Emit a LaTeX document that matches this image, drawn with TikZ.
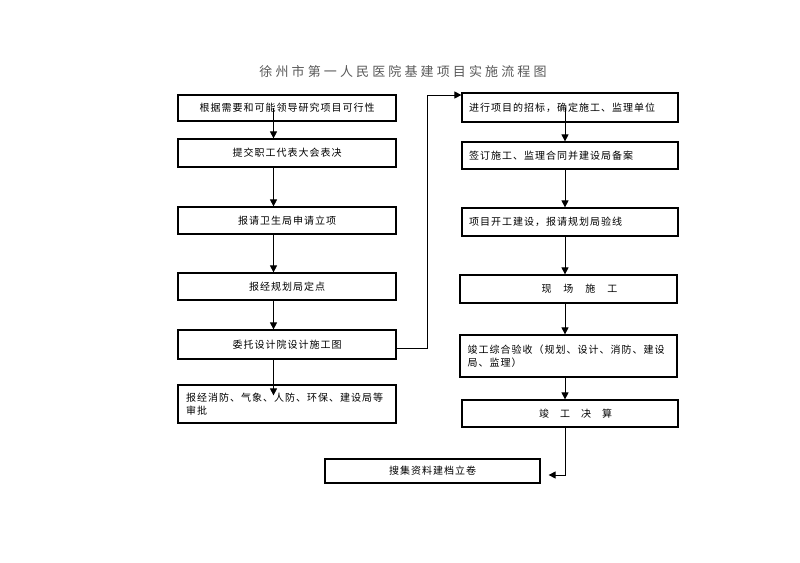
\documentclass[tikz,border=0pt]{standalone}
\usepackage{fontspec}
\newfontfamily\cjk[LetterSpace=10]{Noto Sans CJK SC}
\newfontfamily\cjktitle[LetterSpace=24]{Noto Sans CJK SC}
\usetikzlibrary{arrows.meta}

\tikzset{
  box/.style={draw, line width=1.2pt, minimum width=218pt, minimum height=27pt,
    inner sep=0pt, font=\cjk\fontsize{10}{13}\selectfont},
  lbox/.style={box, align=left, text width=202pt},
  title/.style={font=\cjktitle\fontsize{13}{15}\selectfont, text=black!65},
  arr/.style={-{Triangle[width=7pt,length=7pt]}, line width=0.8pt},
}

\begin{document}
\begin{tikzpicture}[x=1pt,y=-1pt]
	\useasboundingbox (0,0) rectangle (800,562);
	\node[title] (head) at (403,72) {徐州市第一人民医院基建项目实施流程图};
	% left column
	\node[box, minimum height=26pt] (need) at (287,108) {根据需要和可能领导研究项目可行性};
	\node[box, minimum height=28pt] (vote) at (287,153) {提交职工代表大会表决};
	\node[box] (apply) at (287,220.5) {报请卫生局申请立项};
	\node[box] (site) at (287,286.5) {报经规划局定点};
	\node[box, minimum height=29pt] (design) at (287,344.5) {委托设计院设计施工图};
	\node[lbox, minimum height=38pt] (approve) at (287,404) {报经消防、气象、人防、环保、建设局等\\审批};
	% right column
	\node[lbox, minimum width=216pt, minimum height=29pt] (tender) at (570,107.5) {进行项目的招标，确定施工、监理单位};
	\node[lbox, minimum width=216pt] (contract) at (570,155.5) {签订施工、监理合同并建设局备案};
	\node[lbox, minimum width=216pt, minimum height=28pt] (begin) at (570,222) {项目开工建设，报请规划局验线};
	\node[lbox, minimum width=217pt, minimum height=28pt] (build) at (568.5,289) {\hspace*{74pt}现\hspace{12pt}场\hspace{12pt}施\hspace{12pt}工};
	\node[lbox, minimum width=217pt, minimum height=42pt] (accept) at (568.5,356) {竣工综合验收（规划、设计、消防、建设\\局、监理）};
	\node[lbox, minimum width=216pt] (settle) at (570,413.5) {\hspace*{70pt}竣\hspace{11pt}工\hspace{11pt}决\hspace{11pt}算};
	\node[box, minimum width=215pt, minimum height=24pt] (archive) at (432.5,471) {搜集资料建档立卷};
	% connector columns and free ends
	\coordinate (lc) at (273.5,0);
	\coordinate (rc) at (565,0);
	\path (lc |- approve.north) ++(0,11) coordinate (approvein);
	\path (tender.west) ++(0,-12.5) coordinate (tenderin);
	\path (archive.east) ++(8,4) coordinate (archivein);
	% arrows
	\draw[arr] (need.center -| lc) -- (vote.north -| lc);
	\draw[arr] (vote.south -| lc) -- (apply.north -| lc);
	\draw[arr] (apply.south -| lc) -- (site.north -| lc);
	\draw[arr] (site.south -| lc) -- (design.north -| lc);
	\draw[arr] (design.south -| lc) -- (approvein);
	\draw[arr] ([yshift=-3.5pt]design.east) -- ++(31,0) |- (tenderin);
	\draw[arr] (tender.center -| rc) -- (contract.north -| rc);
	\draw[arr] (contract.south -| rc) -- (begin.north -| rc);
	\draw[arr] (begin.south -| rc) -- (build.north -| rc);
	\draw[arr] (build.south -| rc) -- (accept.north -| rc);
	\draw[arr] (accept.south -| rc) -- (settle.north -| rc);
	\draw[arr] (settle.south -| rc) |- (archivein);
\end{tikzpicture}
\end{document}
